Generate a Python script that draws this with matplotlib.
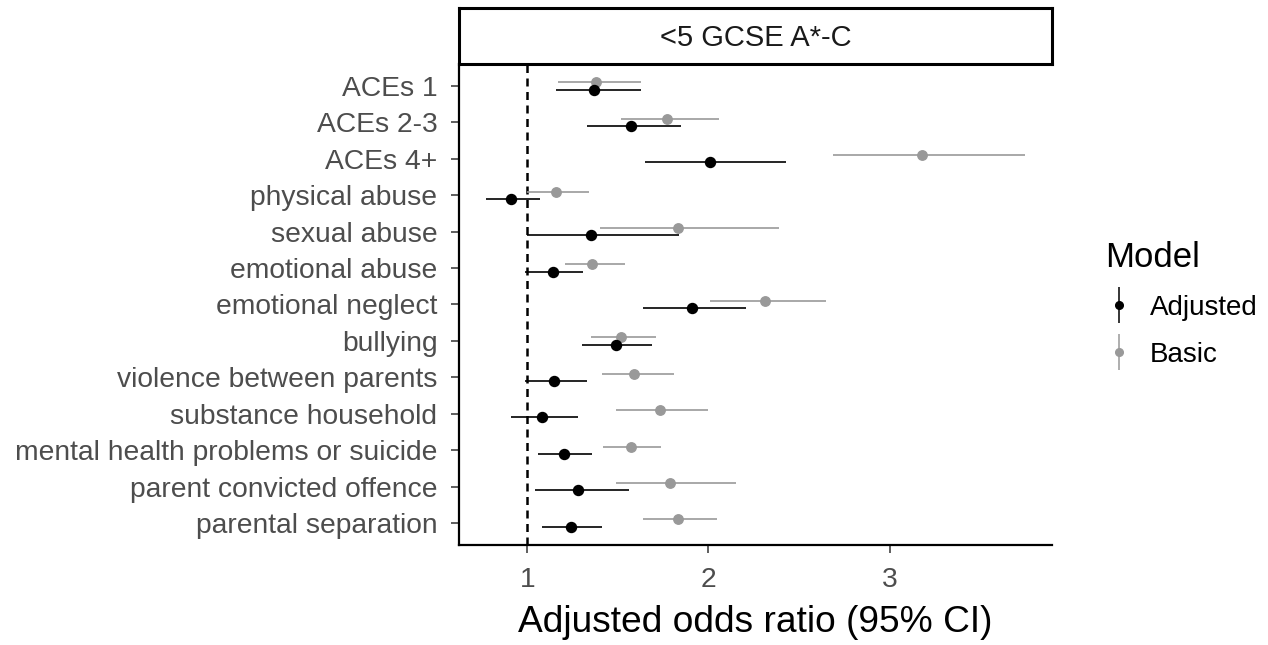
import matplotlib.pyplot as plt
import numpy as np
from matplotlib.lines import Line2D
from matplotlib.legend_handler import HandlerTuple

plt.rcParams['font.family'] = ['Liberation Sans', 'DejaVu Sans']

exposures = ["ACEs 1", "ACEs 2-3", "ACEs 4+", "physical abuse", "sexual abuse",
             "emotional abuse", "emotional neglect", "bullying",
             "violence between parents", "substance household",
             "mental health problems or suicide", "parent convicted offence",
             "parental separation"]

# Adjusted model
adj_or = [1.37, 1.57, 2.01, 0.91, 1.35, 1.14, 1.91, 1.49, 1.15, 1.08, 1.20, 1.28, 1.24]
adj_lo = [1.16, 1.33, 1.65, 0.77, 1.00, 0.99, 1.64, 1.30, 0.99, 0.91, 1.06, 1.04, 1.08]
adj_hi = [1.63, 1.85, 2.43, 1.07, 1.84, 1.31, 2.21, 1.69, 1.33, 1.28, 1.36, 1.56, 1.41]

# Basic model
bas_or = [1.38, 1.77, 3.18, 1.16, 1.83, 1.36, 2.31, 1.52, 1.59, 1.73, 1.57, 1.79, 1.83]
bas_lo = [1.17, 1.52, 2.69, 1.00, 1.40, 1.21, 2.01, 1.35, 1.41, 1.49, 1.42, 1.49, 1.64]
bas_hi = [1.63, 2.06, 3.75, 1.34, 2.39, 1.54, 2.65, 1.71, 1.81, 2.00, 1.74, 2.15, 2.05]

strip_label = "<5 GCSE A*-C"

W, H = 1268, 645
fig = plt.figure(figsize=(W / 100, H / 100), dpi=100)
ax = fig.add_axes([459 / W, 1 - 545 / H, 593 / W, 481 / H])

pos = np.arange(len(exposures))
dodge = 0.1

bas_or = np.array(bas_or)
adj_or = np.array(adj_or)
ax.errorbar(bas_or, pos - dodge,
            xerr=[bas_or - np.array(bas_lo), np.array(bas_hi) - bas_or],
            fmt='o', color='#999999', ms=6.8, elinewidth=1.2, capsize=0, zorder=2)
ax.errorbar(adj_or, pos + dodge,
            xerr=[adj_or - np.array(adj_lo), np.array(adj_hi) - adj_or],
            fmt='o', color='black', ms=7.2, elinewidth=1.2, capsize=0, zorder=3)

ax.axvline(1, color='black', lw=1.8, ls=(0, (3.2, 2.2)), zorder=1)

ax.set_xlim(0.623, 3.897)
ax.set_ylim(len(exposures) - 0.4, -0.6)
ax.set_xticks([1, 2, 3])
ax.set_yticks(pos)
ax.set_yticklabels(exposures)
ax.tick_params(labelsize=20.3, labelcolor='#4D4D4D', length=6, width=1.1,
               color='#333333', pad=9.5)
for s in ['top', 'right']:
    ax.spines[s].set_visible(False)
for s in ['left', 'bottom']:
    ax.spines[s].set_linewidth(1.6)
ax.set_xlabel("Adjusted odds ratio (95% CI)", fontsize=26.7, labelpad=9)

# facet strip
sax = fig.add_axes([459 / W, 1 - 64 / H, 593 / W, 56 / H])
sax.set_xticks([])
sax.set_yticks([])
for s in sax.spines.values():
    s.set_linewidth(2.2)
sax.text(0.5, 0.47, strip_label, ha='center', va='center', fontsize=21,
         color='#1A1A1A', transform=sax.transAxes)

handles = []
for c in ['black', '#999999']:
    handles.append((Line2D([], [], color=c, marker='|', ms=26, mew=1.1, ls='none'),
                    Line2D([], [], color=c, marker='o', ms=5.5, ls='none')))
leg = fig.legend(handles, ["Adjusted", "Basic"], title="Model",
                 handler_map={tuple: HandlerTuple(ndivide=1)},
                 loc='upper left', bbox_to_anchor=(1094 / W, 1 - 230 / H),
                 frameon=False, fontsize=20, title_fontsize=25,
                 handlelength=1.0, handletextpad=0.6, labelspacing=0.75,
                 alignment='left', borderaxespad=0)

fig.savefig("out.png", dpi=100)
